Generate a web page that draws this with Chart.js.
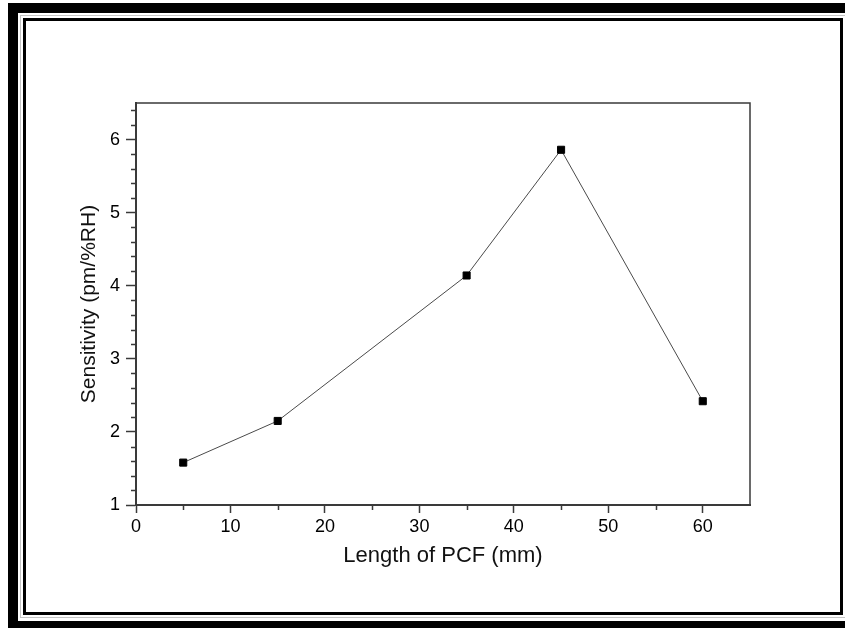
<!DOCTYPE html>
<html>
<head>
<meta charset="utf-8">
<script src="https://cdn.jsdelivr.net/npm/chart.js@4.4.1/dist/chart.umd.min.js"></script>
<style>
    html, body { margin: 0; padding: 0; background: #ffffff; }
    #wrap { position: relative; width: 845px; height: 628px; overflow: hidden; }
    #chart { position: absolute; left: 0; top: 0; }
    .frame { position: absolute; pointer-events: none; box-sizing: border-box; }
    #outerFrame { left: 8px; top: 3px; width: 900px; height: 628px; border-left: 10px solid #000; border-top: 10px solid #000; border-bottom: 10px solid #000; }
    #greyFrame { left: 20px; top: 15px; width: 900px; height: 603px; border: 1px solid #c4c4c4; }
    #innerFrame { left: 23px; top: 18px; width: 820px; height: 597px; border: 3px solid #000; }
</style>
</head>
<body>
<div id="wrap">
    <canvas id="chart" width="845" height="628"></canvas>
    <div class="frame" id="outerFrame"></div>
    <div class="frame" id="greyFrame"></div>
    <div class="frame" id="innerFrame"></div>
</div>
<script>
// --- Data ---
const lengthsMm = [5, 15, 35, 45, 60];
const sensitivity = [1.58, 2.15, 4.14, 5.86, 2.42];

const xTickValues = [0, 10, 20, 30, 40, 50, 60];
const yTickValues = [1, 2, 3, 4, 5, 6];
const xMinorTicks = [5, 15, 25, 35, 45, 55];
const yMinorTicks = [1.2, 1.4, 1.6, 1.8, 2.2, 2.4, 2.6, 2.8, 3.2, 3.4, 3.6, 3.8,
                     4.2, 4.4, 4.6, 4.8, 5.2, 5.4, 5.6, 5.8, 6.2, 6.4];

const axisColor = '#3a3a3a';
const fontFamily = '"Liberation Sans", Arial, Helvetica, sans-serif';

// top/right frame of the plot box plus the short minor ticks
const frameTicks = {
    id: 'frameTicks',
    beforeDatasetsDraw(chart) {
        const { ctx, chartArea: a, scales: { x, y } } = chart;
        ctx.save();
        ctx.strokeStyle = axisColor;
        ctx.lineWidth = 1.5;
        ctx.beginPath();
        ctx.moveTo(a.left, a.top);
        ctx.lineTo(a.right, a.top);
        ctx.lineTo(a.right, a.bottom);
        ctx.stroke();

        ctx.beginPath();
        yMinorTicks.forEach(v => {
            const py = Math.round(y.getPixelForValue(v)) + 0.5;
            ctx.moveTo(a.left - 5, py);
            ctx.lineTo(a.left, py);
        });
        xMinorTicks.forEach(v => {
            const px = Math.round(x.getPixelForValue(v)) + 0.5;
            ctx.moveTo(px, a.bottom);
            ctx.lineTo(px, a.bottom + 5);
        });
        ctx.stroke();
        ctx.restore();
    }
};

const ctx = document.getElementById('chart').getContext('2d');
new Chart(ctx, {
    type: 'line',
    data: {
        datasets: [{
            label: 'Sensitivity',
            data: lengthsMm.map((v, i) => ({ x: v, y: sensitivity[i] })),
            borderColor: '#4a4a4a',
            borderWidth: 1,
            pointStyle: 'rect',
            pointRadius: 5,
            pointBackgroundColor: '#000000',
            pointBorderColor: '#000000',
            pointBorderWidth: 1,
            tension: 0,
            fill: false
        }]
    },
    options: {
        responsive: false,
        devicePixelRatio: 1,
        animation: false,
        layout: { padding: { top: 103, right: 95, left: 0, bottom: 0 } },
        plugins: {
            legend: { display: false },
            tooltip: { enabled: false }
        },
        scales: {
            x: {
                type: 'linear',
                min: 0,
                max: 65,
                afterBuildTicks: (scale) => { scale.ticks = xTickValues.map(v => ({ value: v })); },
                afterFit: (scale) => { scale.height = 123; },
                grid: { drawOnChartArea: false, tickLength: 8, tickColor: axisColor, tickWidth: 1.5 },
                border: { color: axisColor, width: 2 },
                ticks: { color: '#000', padding: 3, maxRotation: 0, font: { family: fontFamily, size: 18 } },
                title: {
                    display: true,
                    text: 'Length of PCF (mm)',
                    color: '#111',
                    padding: { top: 0, bottom: 59 },
                    font: { family: fontFamily, size: 22 }
                }
            },
            y: {
                min: 1,
                max: 6.5,
                afterBuildTicks: (scale) => { scale.ticks = yTickValues.map(v => ({ value: v })); },
                afterFit: (scale) => { scale.width = 136; },
                grid: { drawOnChartArea: false, tickLength: 10, tickColor: axisColor, tickWidth: 1.5 },
                border: { color: axisColor, width: 2 },
                ticks: { color: '#000', padding: 6, font: { family: fontFamily, size: 18 } },
                title: {
                    display: true,
                    text: 'Sensitivity (pm/%RH)',
                    color: '#111',
                    padding: { top: 77, bottom: 0 },
                    font: { family: fontFamily, size: 21 }
                }
            }
        }
    },
    plugins: [frameTicks]
});
</script>
</body>
</html>
